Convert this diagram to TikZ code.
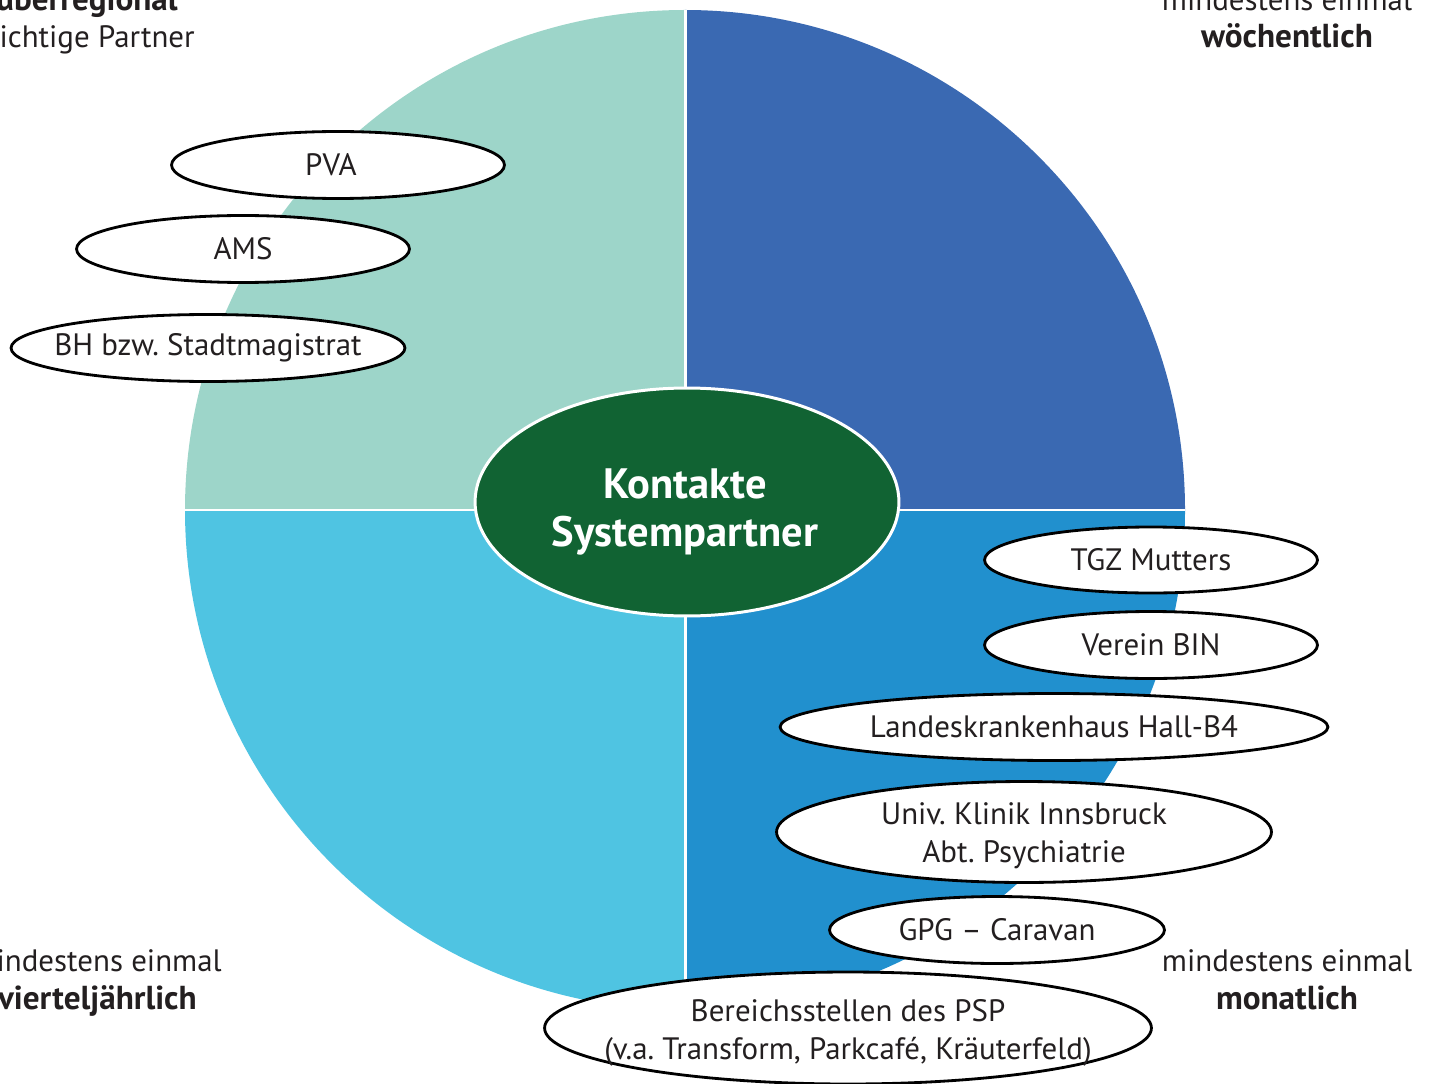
\documentclass[tikz,border=0pt]{standalone}
\usepackage{fontspec}
\setmainfont{PT Sans}
\frenchspacing
\usetikzlibrary{shapes.geometric}
\definecolor{quartTL}{RGB}{157,213,201}
\definecolor{quartTR}{RGB}{58,105,178}
\definecolor{quartBR}{RGB}{33,144,206}
\definecolor{quartBL}{RGB}{79,196,226}
\definecolor{kontaktgreen}{RGB}{17,99,51}
\definecolor{textgray}{RGB}{35,31,32}
\tikzset{
  ring/.style={ellipse, draw=black, fill=white, line width=1.6pt, inner sep=0pt},
  partner/.style={align=center, inner sep=0pt, text=textgray, font=\fontsize{17.6}{21.5}\selectfont},
  freq/.style={anchor=base, inner sep=0pt, text=textgray, font=\fontsize{17.6}{21.5}\selectfont},
  freqbold/.style={freq, font=\fontsize{18.9}{21.5}\selectfont\bfseries},
  mitte/.style={anchor=base, white, font=\fontsize{24.2}{27}\selectfont\bfseries},
}
\begin{document}
\begin{tikzpicture}[x=0.02cm,y=-0.02cm]
\clip (0,0) rectangle (1432,1084);
\coordinate (c) at (685,510);
% vier Quadranten
\fill[quartTL] (c) -- (185,510) arc[start angle=180,end angle=270,radius=500] -- cycle;
\fill[quartTR] (c) -- (685,10) arc[start angle=270,end angle=360,radius=500] -- cycle;
\fill[quartBR] (c) -- (1185,510) arc[start angle=0,end angle=90,radius=500] -- cycle;
\fill[quartBL] (c) -- (685,1010) arc[start angle=90,end angle=180,radius=500] -- cycle;
\draw[white,line width=1.7pt] (185,510) -- (1185,510);
\draw[white,line width=1.7pt] (685,10) -- (685,1010);
% Mitte
\node[ellipse, fill=kontaktgreen, draw=white, line width=1.7pt, minimum width=8.48cm,
  minimum height=4.56cm, inner sep=0pt] (kontakte) at (687,502) {};
\node[mitte] (kont) at (685,498) {Kontakte};
\node[mitte] (syst) at (685,546) {Systempartner};
% ueberregional
\node[ring, minimum width=6.66cm, minimum height=1.34cm] (pva) at (338,165) {};
\node[partner] (pva-t) at (331,165) {PVA};
\node[ring, minimum width=6.66cm, minimum height=1.34cm] (ams) at (243,249) {};
\node[partner] (ams-t) at (ams) {AMS};
\node[ring, minimum width=7.88cm, minimum height=1.34cm] (bh) at (208,348) {};
\node[partner] (bh-t) at (bh) {BH bzw. Stadtmagistrat};
% monatlich
\node[ring, minimum width=6.66cm, minimum height=1.32cm] (tgz) at (1151,560) {};
\node[partner] (tgz-t) at (tgz) {TGZ Mutters};
\node[ring, minimum width=6.66cm, minimum height=1.34cm] (bin) at (1151,645) {};
\node[partner] (bin-t) at (bin) {Verein BIN};
\node[ring, minimum width=10.96cm, minimum height=1.34cm] (lkh) at (1054,727) {};
\node[partner] (lkh-t) at (lkh) {Landeskrankenhaus Hall-B4};
\node[ring, minimum width=9.9cm, minimum height=2.02cm] (klinik) at (1024,832) {};
\node[partner] (klinik-t) at (1024,836) {Univ. Klinik Innsbruck\\Abt. Psychiatrie};
\node[ring, minimum width=6.7cm, minimum height=1.34cm] (gpg) at (997,930) {};
\node[partner] (gpg-t) at (gpg) {GPG -- Caravan};
\node[ring, minimum width=12.14cm, minimum height=2.24cm] (psp) at (848,1028) {};
\node[partner] (psp-t) at (848,1033) {Bereichsstellen des PSP\\(v.a. Transform, Parkcafé, Kräuterfeld)};
% Haeufigkeiten
\node[freqbold, anchor=base east] (ueber) at (178,11) {überregional};
\node[freq, anchor=base east] (wicht) at (195,48) {wichtige Partner};
\node[freq] (wtop) at (1287,11) {mindestens einmal};
\node[freqbold] (woch) at (1287,48) {wöchentlich};
\node[freq, anchor=base east] (vtop) at (222,971) {mindestens einmal};
\node[freqbold, anchor=base east] (viert) at (197,1009) {vierteljährlich};
\node[freq] (mtop) at (1287,971) {mindestens einmal};
\node[freqbold] (monat) at (1287,1009) {monatlich};
\end{tikzpicture}
\end{document}
